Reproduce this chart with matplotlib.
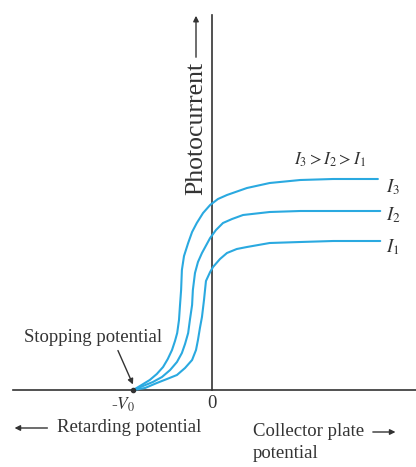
import matplotlib.pyplot as plt

plt.rcParams['font.family'] = 'Liberation Serif'
plt.rcParams['mathtext.fontset'] = 'stix'

# Spændingen i enheder af V0, strømmen i vilkårlige enheder
x_i3 = [-1.0, -0.915, -0.79, -0.70, -0.62, -0.56, -0.506, -0.468, -0.44, -0.417, -0.404, -0.39,
        -0.38, -0.353, -0.30, -0.25, -0.19, -0.11, -0.02, 0.08, 0.195, 0.45, 0.74, 1.13, 1.55, 2.12]
y_i3 = [0, 4, 10, 16, 23, 31, 40, 49, 57, 70, 85, 100,
        120, 134, 147, 158, 167, 177, 185, 191, 195, 202, 207, 210, 211, 211]

x_i2 = [-1.0, -0.876, -0.75, -0.634, -0.53, -0.443, -0.38, -0.34, -0.30, -0.278, -0.25, -0.24,
        -0.213, -0.175, -0.124, -0.02, 0.055, 0.144, 0.26, 0.40, 0.74, 1.13, 2.15]
y_i2 = [0, 4, 8, 13, 20, 28, 37, 46, 57, 70, 85, 100,
        117, 128, 137, 152, 160, 167, 171, 175, 178, 179, 179]

x_i1 = [-1.0, -0.85, -0.70, -0.57, -0.443, -0.34, -0.25, -0.20, -0.175, -0.15, -0.124, -0.098,
        -0.085, -0.073, -0.02, 0.017, 0.106, 0.195, 0.32, 0.45, 0.74, 1.13, 1.55, 2.15]
y_i1 = [0, 2, 7, 11, 15, 22, 30, 40, 50, 62, 73, 90,
        100, 109, 118, 123, 131, 137, 141, 143, 147, 148, 149, 149]

curve_labels = ['$I_3$', '$I_2$', '$I_1$']
blue = '#2aa9e0'
dark = '#333333'

fig = plt.figure(figsize=(4.16, 4.67), dpi=100)
ax = fig.add_axes([0, 0, 1, 1])
ax.set_xlim(-2.70, 2.606)
ax.set_ylim(-77, 390)
ax.axis('off')

# Akser
ax.plot([-2.54, 2.606], [0, 0], color=dark, linewidth=1.2)
ax.plot([0, 0], [0, 375], color=dark, linewidth=1.2)

# Kurver
for xs, ys, lab, ly in [(x_i3, y_i3, curve_labels[0], 203),
                        (x_i2, y_i2, curve_labels[1], 175),
                        (x_i1, y_i1, curve_labels[2], 143)]:
    ax.plot(xs, ys, color=blue, linewidth=1.5, solid_joinstyle='round', solid_capstyle='round')
    ax.text(2.22, ly, lab, fontsize=13.5, ha='left', va='center', color=dark)

ax.plot([-1.0], [0], marker='o', markersize=3, color=dark)

ax.text(1.51, 230, '$I_3 > I_2 > I_1$', fontsize=12.5, ha='center', va='center', color=dark)

# Photocurrent-akse
ax.annotate('', xy=(-0.2, 377), xytext=(-0.2, 330),
            arrowprops=dict(arrowstyle='-|>', color=dark, lw=1.0, mutation_scale=8))
ax.text(-0.2, 262, 'Photocurrent', rotation=90, fontsize=18.5, ha='center', va='center', color=dark)

# Stopping potential
ax.text(-1.51, 52, 'Stopping potential', fontsize=13.5, ha='center', va='center', color=dark)
ax.annotate('', xy=(-0.99, 3), xytext=(-1.21, 42),
            arrowprops=dict(arrowstyle='-|>', color=dark, lw=1.0, mutation_scale=8))

ax.text(-1.13, -15, '-$V_0$', fontsize=12.5, ha='center', va='center', color=dark)
ax.text(0.0, -14, '0', fontsize=13.5, ha='center', va='center', color=dark)

# Retarding potential
ax.annotate('', xy=(-2.55, -38), xytext=(-2.06, -38),
            arrowprops=dict(arrowstyle='-|>', color=dark, lw=1.0, mutation_scale=8))
ax.text(-1.055, -38, 'Retarding potential', fontsize=13.5, ha='center', va='center', color=dark)

# Collector plate potential
ax.text(0.527, -42, 'Collector plate', fontsize=13.5, ha='left', va='center', color=dark)
ax.text(0.527, -63, 'potential', fontsize=13.5, ha='left', va='center', color=dark)
ax.annotate('', xy=(2.38, -42), xytext=(2.02, -42),
            arrowprops=dict(arrowstyle='-|>', color=dark, lw=1.0, mutation_scale=8))

fig.savefig('out.png', dpi=100)
